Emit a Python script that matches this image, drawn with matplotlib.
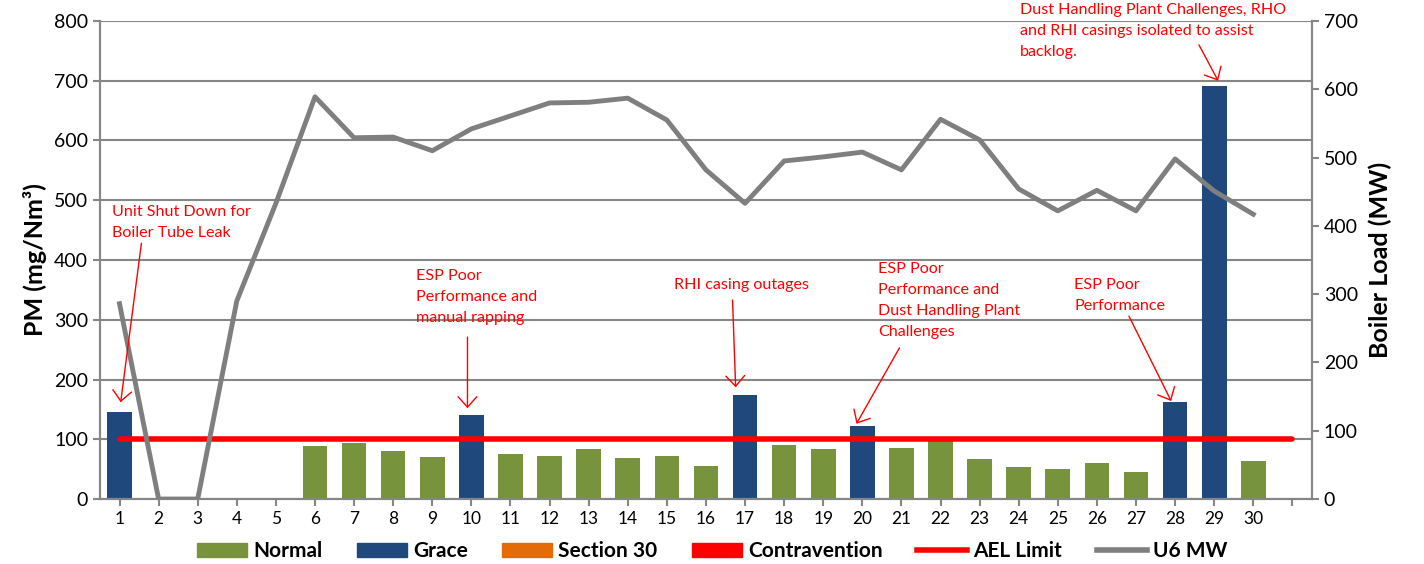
import matplotlib
matplotlib.use("Agg")
import matplotlib.pyplot as plt
from matplotlib.patches import Patch
from matplotlib.lines import Line2D
import numpy as np

plt.rcParams['font.family'] = ['Lato', 'DejaVu Sans']

days = np.arange(1, 31)
pm = [146, 0, 0, 0, 0, 89, 93, 80, 70, 140,
      76, 72, 83, 68, 72, 55, 174, 91, 83, 122,
      86, 98, 67, 53, 50, 60, 45, 162, 691, 63]
status = ['Grace', None, None, None, None, 'Normal', 'Normal', 'Normal', 'Normal', 'Grace',
          'Normal', 'Normal', 'Normal', 'Normal', 'Normal', 'Normal', 'Grace', 'Normal', 'Normal', 'Grace',
          'Normal', 'Normal', 'Normal', 'Normal', 'Normal', 'Normal', 'Normal', 'Grace', 'Grace', 'Normal']
mw = [286, 0, 0, 290, 433, 589, 529, 530, 510, 542,
      561, 580, 581, 587, 555, 482, 433, 495, 501, 508,
      482, 556, 526, 454, 422, 452, 422, 498, 451, 417]
ael_days = np.arange(1, 32)
ael_limit = 100

colors = {'Normal': '#77933C', 'Grace': '#1F497D', 'Section 30': '#E36C09',
          'Contravention': '#FF0000'}

# (text, text x, text top y, arrow start, arrow tip)
notes = [
    ("Unit Shut Down for\nBoiler Tube Leak", 0.82, 492, (1.56, 428), (1.03, 162)),
    ("ESP Poor\nPerformance and\nmanual rapping", 8.59, 385, (9.9, 271), (9.9, 152)),
    ("RHI casing outages", 15.18, 370, (16.68, 333), (16.76, 187)),
    ("ESP Poor\nPerformance and\nDust Handling Plant\nChallenges", 20.41, 397, (20.95, 253), (19.85, 126)),
    ("ESP Poor\nPerformance", 25.42, 370, (26.82, 306), (27.9, 164)),
    ("Dust Handling Plant Challenges, RHO\nand RHI casings isolated to assist\nbacklog.", 24.04, 830, (28.61, 760), (29.1, 700)),
]

fig = plt.figure(figsize=(14.24, 5.64), dpi=100)
ax = fig.add_axes([0.0702, 0.1152, 0.8511, 0.8476])
ax2 = ax.twinx()

bar_colors = [colors[s] if s else 'none' for s in status]
ax.bar(days, pm, width=0.63, color=bar_colors, zorder=2)
ax.plot(ael_days, [ael_limit] * len(ael_days), color='#FF0000', lw=4, zorder=3,
        solid_capstyle='round')
ax2.plot(days, mw, color='#7F7F7F', lw=3.5, zorder=4)

grid_c = '#868686'
ax.set_xlim(0.5, 31.5)
ax.set_ylim(0, 800)
ax2.set_ylim(0, 700)
ax.set_yticks(range(0, 801, 100))
ax2.set_yticks(range(0, 701, 100))
ax.set_xticks(range(1, 32))
ax.set_xticklabels([str(d) for d in days] + [''])
ax.set_axisbelow(True)
ax.yaxis.grid(True, color=grid_c, lw=1.5)

for a in (ax, ax2):
    a.spines['top'].set_visible(False)
    for s in ('left', 'right', 'bottom'):
        a.spines[s].set_color(grid_c)
        a.spines[s].set_linewidth(1.5)
    a.tick_params(colors=grid_c, width=1.5, length=5, labelcolor='black')
ax.tick_params(axis='y', labelsize=14)
ax.tick_params(axis='x', labelsize=12.5)
ax2.tick_params(axis='y', labelsize=14)

ax.set_ylabel('PM (mg/Nm³)', fontsize=18, fontweight='bold', labelpad=5)
ax2.set_ylabel('Boiler Load (MW)', fontsize=18, fontweight='bold', labelpad=8)

for txt, tx, ty, start, tip in notes:
    ax2.text(tx, ty, txt, transform=ax.transData, color='#FF0000', fontsize=11.6,
             va='top', ha='left', linespacing=1.65, zorder=6)
    ax2.annotate('', xy=tip, xycoords=ax.transData, xytext=start, textcoords=ax.transData,
                 arrowprops=dict(arrowstyle='->,head_length=0.5,head_width=0.45',
                                 color='#FF0000', lw=1, shrinkA=0, shrinkB=0,
                                 mutation_scale=15), zorder=6)

handles = [Patch(color=colors['Normal'], label='Normal'),
           Patch(color=colors['Grace'], label='Grace'),
           Patch(color=colors['Section 30'], label='Section 30'),
           Patch(color=colors['Contravention'], label='Contravention'),
           Line2D([], [], color='#FF0000', lw=4, label='AEL Limit'),
           Line2D([], [], color='#7F7F7F', lw=4, label='U6 MW')]
fig.legend(handles=handles, loc='center', bbox_to_anchor=(0.5, 1 - 551 / 564), ncol=6,
           frameon=False, prop={'size': 15, 'weight': 'bold'}, handlelength=2.4,
           handleheight=0.65, columnspacing=1.65, handletextpad=0.3)

fig.savefig('out.png', dpi=100)
